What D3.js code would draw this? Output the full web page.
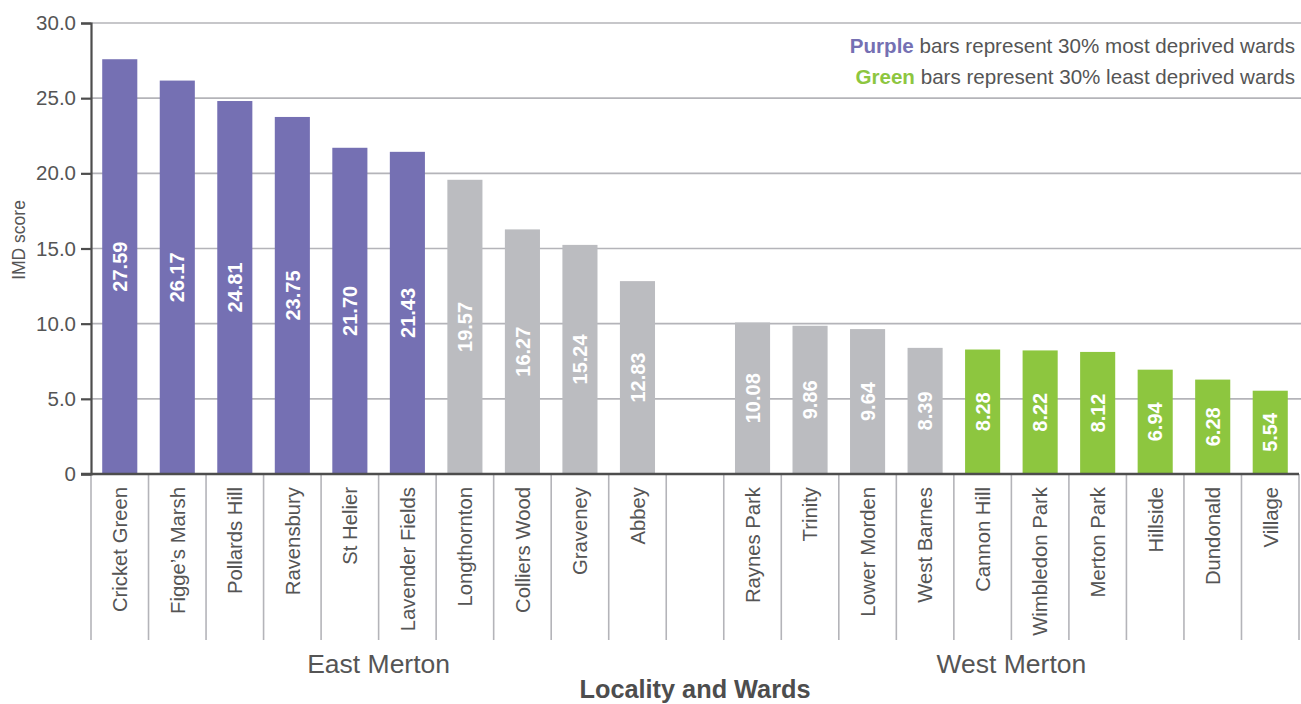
<!DOCTYPE html>
<html>
<head>
<meta charset="utf-8">
<script src="https://cdn.jsdelivr.net/npm/d3@7"></script>
<style>
  body { margin: 0; background: #fff; }
  svg { display: block; font-family: "Liberation Sans", Arial, sans-serif; }
</style>
</head>
<body>
<svg width="1301" height="704"></svg>
<script>
// data
let eastWards  = ["Cricket Green", "Figge\u2019s Marsh", "Pollards Hill", "Ravensbury", "St Helier",
                  "Lavender Fields", "Longthornton", "Colliers Wood", "Graveney", "Abbey"];
let eastScores = [27.59, 26.17, 24.81, 23.75, 21.70, 21.43, 19.57, 16.27, 15.24, 12.83];
let eastBand   = ["most", "most", "most", "most", "most", "most", "mid", "mid", "mid", "mid"];

let westWards  = ["Raynes Park", "Trinity", "Lower Morden", "West Barnes", "Cannon Hill",
                  "Wimbledon Park", "Merton Park", "Hillside", "Dundonald", "Village"];
let westScores = [10.08, 9.86, 9.64, 8.39, 8.28, 8.22, 8.12, 6.94, 6.28, 5.54];
let westBand   = ["mid", "mid", "mid", "mid", "least", "least", "least", "least", "least", "least"];

let localities = ["East Merton", "West Merton"];
let yTicks = [0, 5, 10, 15, 20, 25, 30];

let colors = {most: "#7570b3", mid: "#bbbcc0", least: "#8dc63f"};
let textCol = "#555555";
let gridCol = "#b4b4b9";

let GAP = "__gap";

let bars = [];
eastWards.forEach((w, i) => bars.push({name: w, v: eastScores[i], band: eastBand[i], loc: 0}));
westWards.forEach((w, i) => bars.push({name: w, v: westScores[i], band: westBand[i], loc: 1}));

let domain = eastWards.concat([GAP], westWards);

let plotL = 91, plotR = 1299, plotT = 23, plotB = 474;

let x = d3.scaleBand()
    .domain(domain)
    .range([plotL, plotR])
    .paddingInner(0.39)
    .paddingOuter(0.195);

let y = d3.scaleLinear()
    .domain([0, 30])
    .range([plotB, plotT]);

let svg = d3.select("svg");

// horizontal grid
svg.append("g")
    .selectAll("line")
    .data(yTicks.filter(t => t > 0))
    .join("line")
    .attr("x1", plotL)
    .attr("x2", 1301)
    .attr("y1", d => y(d))
    .attr("y2", d => y(d))
    .attr("stroke", gridCol)
    .attr("stroke-width", 1.6);

// slot separators under the axis
let half = (x.step() - x.bandwidth()) / 2;
let seps = domain.map(d => x(d) - half).concat([plotR]);
svg.append("g")
    .selectAll("line")
    .data(seps)
    .join("line")
    .attr("x1", d => d)
    .attr("x2", d => d)
    .attr("y1", plotB)
    .attr("y2", 640)
    .attr("stroke", gridCol)
    .attr("stroke-width", 1.6);

// bars
svg.append("g")
    .selectAll("rect")
    .data(bars)
    .join("rect")
    .attr("x", d => x(d.name))
    .attr("y", d => y(d.v))
    .attr("width", x.bandwidth())
    .attr("height", d => y(0) - y(d.v))
    .attr("fill", d => colors[d.band]);

// value labels inside bars
svg.append("g")
    .selectAll("text")
    .data(bars)
    .join("text")
    .attr("transform", d => `translate(${x(d.name) + x.bandwidth() / 2},${(y(d.v) + y(0)) / 2}) rotate(-90)`)
    .attr("text-anchor", "middle")
    .attr("dy", "0.36em")
    .attr("fill", "#fff")
    .attr("font-size", 20)
    .attr("font-weight", "bold")
    .text(d => d.v.toFixed(2));

// ward names
svg.append("g")
    .selectAll("text")
    .data(bars)
    .join("text")
    .attr("transform", d => `translate(${x(d.name) + x.bandwidth() / 2},487) rotate(-90)`)
    .attr("text-anchor", "end")
    .attr("dy", "0.36em")
    .attr("fill", textCol)
    .attr("font-size", 20.3)
    .text(d => d.name);

// y axis
let yAxis = svg.append("g")
    .attr("transform", `translate(${plotL},0)`)
    .call(d3.axisLeft(y)
        .tickValues(yTicks)
        .tickSize(10)
        .tickPadding(5)
        .tickFormat(d => d === 0 ? "0" : d3.format(".1f")(d)));
yAxis.select(".domain").attr("stroke", "#4d4d4d").attr("stroke-width", 2.2);
yAxis.selectAll(".tick line").attr("stroke", "#4d4d4d").attr("stroke-width", 2.2);
yAxis.selectAll(".tick text")
    .attr("fill", textCol)
    .attr("font-size", 20.5)
    .attr("font-family", "Liberation Sans, Arial, sans-serif");

// x baseline
svg.append("line")
    .attr("x1", plotL - 10)
    .attr("x2", plotR)
    .attr("y1", plotB)
    .attr("y2", plotB)
    .attr("stroke", "#4d4d4d")
    .attr("stroke-width", 2.4);

// locality labels
svg.append("g")
    .selectAll("text")
    .data(localities)
    .join("text")
    .attr("x", (d, i) => {
        let ws = bars.filter(b => b.loc === i);
        let a = x(ws[0].name) - half;
        let b = x(ws[ws.length - 1].name) + x.bandwidth() + half;
        return (a + b) / 2;
    })
    .attr("y", 673)
    .attr("text-anchor", "middle")
    .attr("fill", textCol)
    .attr("font-size", 26.5)
    .text(d => d);

// axis titles
svg.append("text")
    .attr("x", (plotL + plotR) / 2)
    .attr("y", 698)
    .attr("text-anchor", "middle")
    .attr("fill", "#4d4d4d")
    .attr("font-size", 25.3)
    .attr("font-weight", "bold")
    .text("Locality and Wards");

svg.append("text")
    .attr("transform", "translate(25,240) rotate(-90)")
    .attr("text-anchor", "middle")
    .attr("fill", textCol)
    .attr("font-size", 17.5)
    .text("IMD score");

// key
let key = [
    {word: "Purple", col: colors.most, rest: " bars represent 30% most deprived wards", y: 53},
    {word: "Green", col: colors.least, rest: " bars represent 30% least deprived wards", y: 84}
];
let keyText = svg.append("g")
    .selectAll("text")
    .data(key)
    .join("text")
    .attr("x", 1295)
    .attr("y", d => d.y)
    .attr("text-anchor", "end")
    .attr("font-size", 20.6)
    .attr("fill", textCol);
keyText.append("tspan")
    .attr("font-weight", "bold")
    .attr("fill", d => d.col)
    .text(d => d.word);
keyText.append("tspan")
    .text(d => d.rest);
</script>
</body>
</html>
